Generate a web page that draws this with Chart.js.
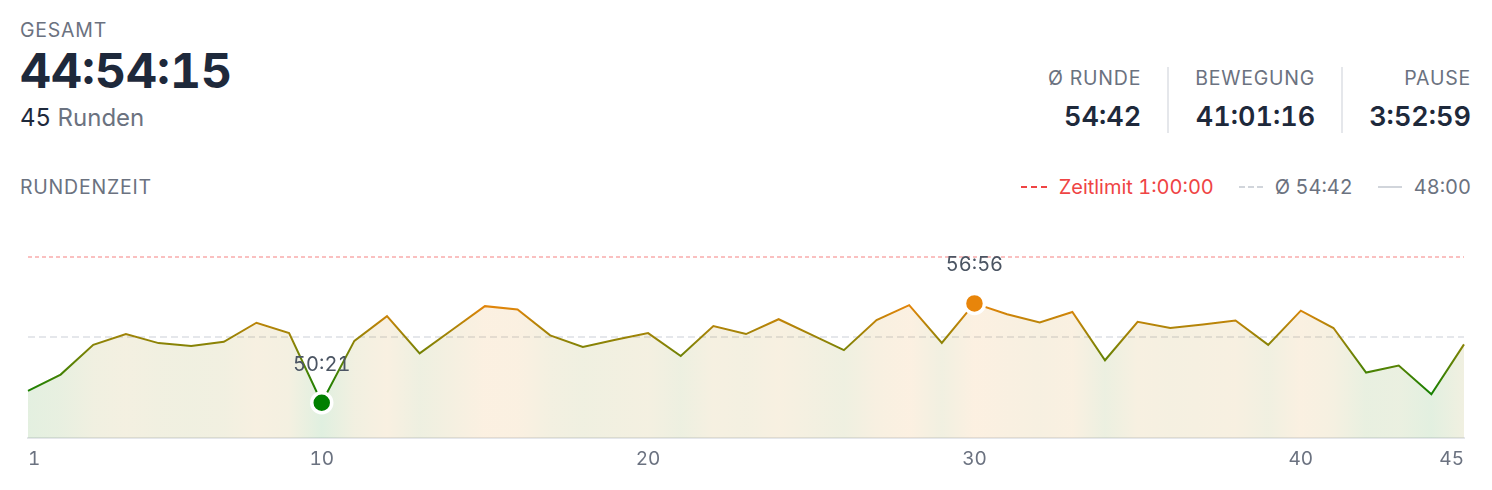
<!DOCTYPE html>
<html lang="de">
<head>
<meta charset="utf-8">
<title>Rundenzeit</title>
<script src="https://cdn.jsdelivr.net/npm/chart.js@4.4.1/dist/chart.umd.min.js"></script>
<style>
  html, body { margin: 0; padding: 0; background: #fff; }
  body { width: 1492px; height: 490px; position: relative; overflow: hidden; font-family: Inter, "Noto Sans", sans-serif; color: #1e293b; font-variant-numeric: tabular-nums; }
  .lbl { font-size: 19.5px; line-height: 1; color: #6b7280; letter-spacing: 0.04em; text-transform: uppercase; white-space: nowrap; }
  #gesamtLbl { position: absolute; left: 20px; top: 21px; }
  #total { position: absolute; left: 20px; top: 47px; font-size: 48px; line-height: 1; font-weight: 700; color: #1e293b; }
  #laps { position: absolute; left: 20px; top: 106px; font-size: 24px; line-height: 1; color: #6b7280; }
  #laps b { font-weight: 400; color: #1e293b; }
  #stats { position: absolute; right: 21px; top: 67px; display: flex; }
  .stat { text-align: right; padding: 2px 26px 0 26px; height: 64px; }
  .stat + .stat { border-left: 2px solid #e5e7eb; }
  .stat:last-child { padding-right: 0; }
  .stat .val { font-size: 27px; line-height: 1; font-weight: 600; color: #1e293b; margin-top: 14px; }
  #chartLbl { position: absolute; left: 20px; top: 178px; }
  #legend { position: absolute; right: 21px; top: 177px; display: flex; align-items: center; font-size: 20px; line-height: 1; color: #6b7280; }
  .item { display: flex; align-items: center; margin-left: 25px; }
  .item:first-child { margin-left: 0; }
  .swatch { width: 26px; height: 2px; margin-right: 12px; }
  .sw-limit { background: repeating-linear-gradient(90deg, #ef4444 0 6px, transparent 6px 10px); }
  .sw-avg { width: 24px; background: repeating-linear-gradient(90deg, #d1d5db 0 6px, transparent 6px 9px); }
  .sw-base { width: 24px; background: #d1d5db; }
  #wrap { position: absolute; left: 0; top: 230px; width: 1492px; height: 251px; }
</style>
</head>
<body>
<div id="gesamtLbl" class="lbl">Gesamt</div>
<div id="total"></div>
<div id="laps"></div>
<div id="stats"></div>
<div id="chartLbl" class="lbl">Rundenzeit</div>
<div id="legend"></div>
<div id="wrap"><canvas id="chart"></canvas></div>

<script>
// lap numbers and lap times (mm:ss)
const laps = [1, 2, 3, 4, 5, 6, 7, 8, 9, 10, 11, 12, 13, 14, 15, 16, 17, 18, 19, 20, 21, 22, 23,
  24, 25, 26, 27, 28, 29, 30, 31, 32, 33, 34, 35, 36, 37, 38, 39, 40, 41, 42, 43, 44, 45];
const lapTimes = [
  '51:08', '52:13', '54:11', '54:54', '54:18', '54:07', '54:23', '55:39', '54:58', '50:21',
  '54:27', '56:05', '53:37', '55:11', '56:45', '56:32', '54:49', '54:03', '54:31', '54:58',
  '53:27', '55:26', '54:54', '55:53', '54:52', '53:50', '55:50', '56:49', '54:19', '56:56',
  '56:13', '55:40', '56:22', '53:10', '55:43', '55:18', '55:32', '55:48', '54:11', '56:27',
  '55:18', '52:21', '52:49', '50:55', '54:13'];
const shownTicks = [1, 10, 20, 30, 40, 45];

// summary figures
const totalTime = '44:54:15';
const avgLap = '54:42';
const moving = '41:01:16';
const pause = '3:52:59';
const timeLimit = '1:00:00';
const baseLine = '48:00';
const yTop = '61:00';

const toMin = (s) => {
  const p = s.split(':').map(Number);
  return p.length === 3 ? p[0] * 60 + p[1] + p[2] / 60 : p[0] + p[1] / 60;
};
const values = lapTimes.map(toMin);
const vMin = Math.min(...values), vMax = Math.max(...values);
const iMin = values.indexOf(vMin), iMax = values.indexOf(vMax);

const GREEN = [0, 128, 0], ORANGE = [232, 133, 10];
const colorFor = (v, a = 1) => {
  const t = (v - vMin) / (vMax - vMin);
  const c = GREEN.map((g, i) => Math.round(g + (ORANGE[i] - g) * t));
  return `rgba(${c[0]},${c[1]},${c[2]},${a})`;
};

// horizontal gradient with one stop per lap, used for both line and fill
const lapGradient = (chart, alpha) => {
  const a = chart.chartArea;
  if (!a) return 'transparent';
  const xs = chart.scales.x;
  const g = chart.ctx.createLinearGradient(a.left, 0, a.right, 0);
  values.forEach((v, i) => {
    const s = Math.min(1, Math.max(0, (xs.getPixelForValue(i) - a.left) / (a.right - a.left)));
    g.addColorStop(s, colorFor(v, alpha));
  });
  return g;
};

// header
document.getElementById('total').textContent = totalTime;
document.getElementById('laps').innerHTML = `<b>${laps.length}</b> Runden`;
document.getElementById('stats').innerHTML = [['Ø Runde', avgLap], ['Bewegung', moving], ['Pause', pause]]
  .map(([l, v]) => `<div class="stat"><div class="lbl">${l}</div><div class="val">${v}</div></div>`).join('');
document.getElementById('legend').innerHTML = `
  <div class="item" style="color:#ef4444"><span class="swatch sw-limit"></span>Zeitlimit ${timeLimit}</div>
  <div class="item"><span class="swatch sw-avg"></span>Ø ${avgLap}</div>
  <div class="item"><span class="swatch sw-base"></span>${baseLine}</div>`;

// reference lines: limit and average
const refLines = {
  id: 'refLines',
  beforeDatasetsDraw(chart) {
    const { ctx, chartArea: a, scales: { y } } = chart;
    const draw = (val, color, dash, w) => {
      const py = Math.round(y.getPixelForValue(val));
      ctx.save();
      ctx.strokeStyle = color; ctx.lineWidth = w; ctx.setLineDash(dash);
      ctx.beginPath(); ctx.moveTo(a.left, py); ctx.lineTo(a.right, py); ctx.stroke();
      ctx.restore();
    };
    draw(toMin(timeLimit), 'rgba(239,68,68,0.45)', [4, 3], 1.5);
    draw(toMin(avgLap), '#e5e7eb', [7, 4], 2);
  }
};

const pointLabels = {
  id: 'pointLabels',
  afterDatasetsDraw(chart) {
    const meta = chart.getDatasetMeta(0);
    const ctx = chart.ctx;
    ctx.save();
    ctx.font = '20px Inter, "Noto Sans", sans-serif';
    ctx.fillStyle = '#4b5563';
    ctx.textAlign = 'center';
    ctx.textBaseline = 'middle';
    [iMin, iMax].forEach(i => {
      const p = meta.data[i];
      ctx.fillText(lapTimes[i], p.x, p.y - 38);
    });
    ctx.restore();
  }
};

new Chart(document.getElementById('chart'), {
  type: 'line',
  data: {
    labels: laps,
    datasets: [{
      data: values,
      borderWidth: 2,
      borderColor: (c) => lapGradient(c.chart, 1),
      fill: 'start',
      backgroundColor: (c) => lapGradient(c.chart, 0.12),
      pointRadius: values.map((v, i) => (i === iMin || i === iMax) ? 10 : 0),
      pointHoverRadius: 0,
      pointBackgroundColor: values.map(v => colorFor(v)),
      pointBorderColor: '#fff',
      pointBorderWidth: 3.5,
      tension: 0
    }]
  },
  options: {
    responsive: true,
    maintainAspectRatio: false,
    animation: false,
    events: [],
    layout: { padding: { left: 28, right: 28, top: 12, bottom: 0 } },
    plugins: { legend: { display: false }, tooltip: { enabled: false } },
    scales: {
      x: {
        offset: false,
        grid: { display: false, drawTicks: false },
        border: { display: true, color: '#e5e7eb', width: 2 },
        ticks: {
          autoSkip: false, maxRotation: 0, padding: 10, align: 'inner',
          color: '#6b7280', font: { size: 19, family: 'Inter, "Noto Sans", sans-serif' },
          callback: (val, i) => shownTicks.includes(laps[i]) ? String(laps[i]) : ''
        }
      },
      y: { display: false, min: toMin(baseLine), max: toMin(yTop) }
    }
  },
  plugins: [refLines, pointLabels]
});
</script>
</body>
</html>
